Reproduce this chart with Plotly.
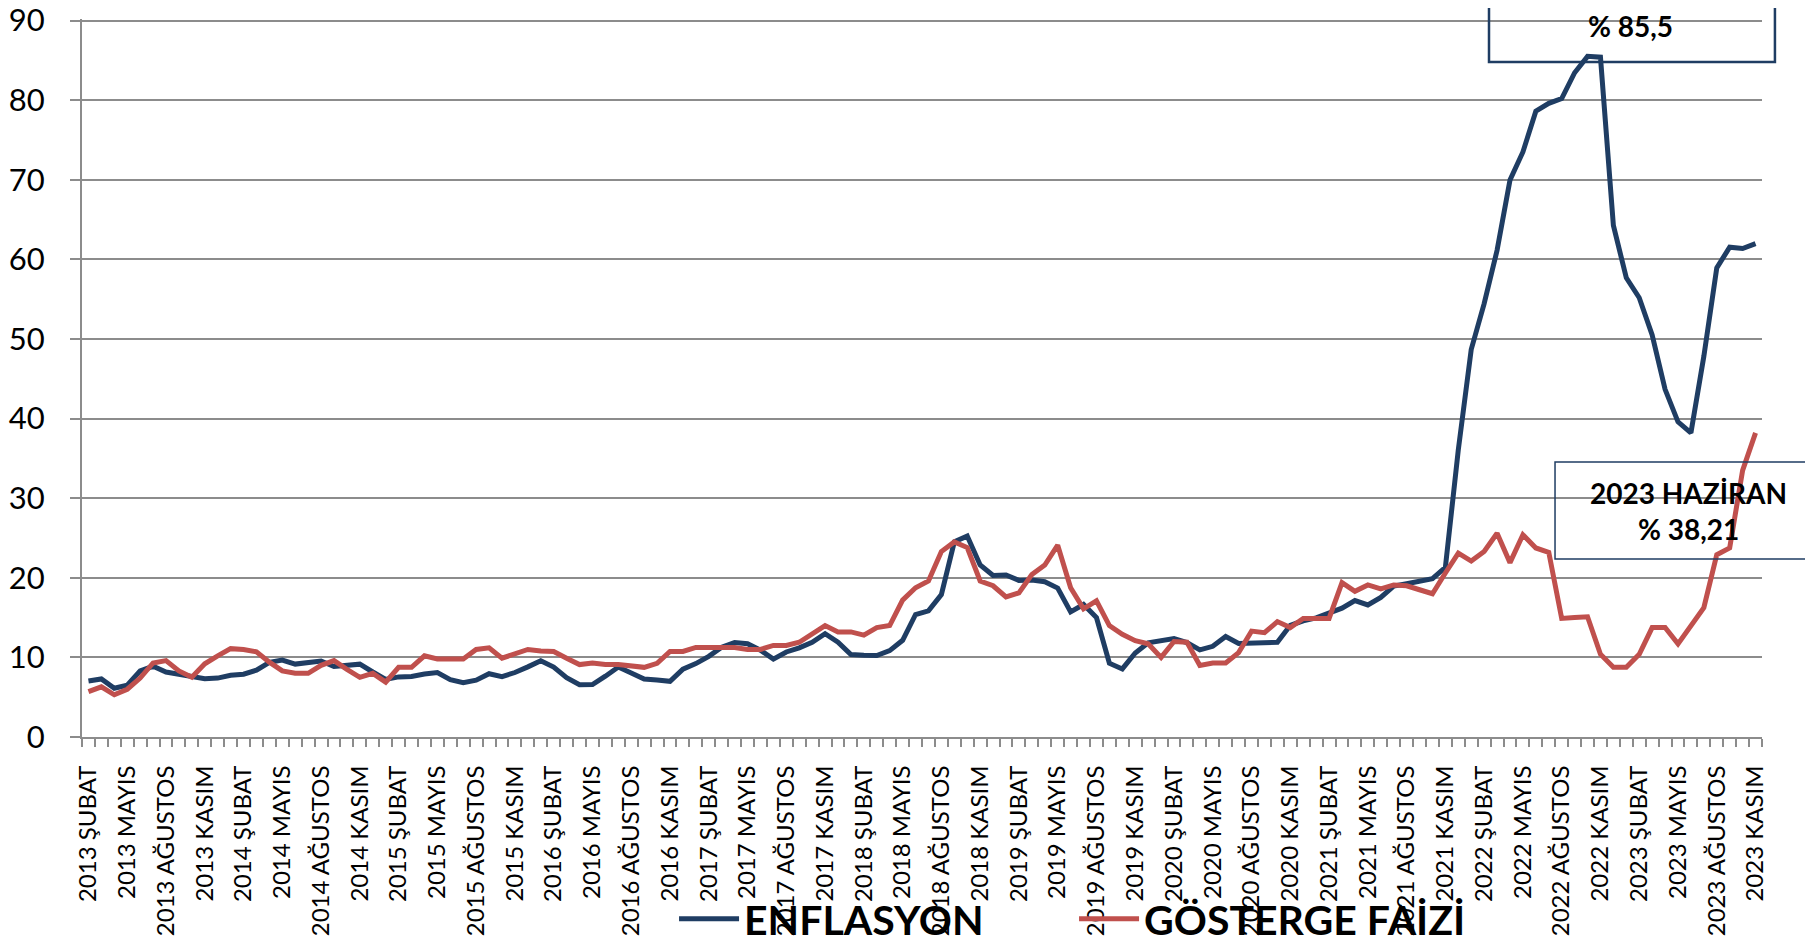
import plotly.graph_objects as go

# ---- data ----
month_names = ["OCAK", "ŞUBAT", "MART", "NİSAN", "MAYIS", "HAZİRAN",
               "TEMMUZ", "AĞUSTOS", "EYLÜL", "EKİM", "KASIM", "ARALIK"]
months = [f"{y} {month_names[m]}" for y in range(2013, 2024) for m in range(12)]
months = months[1:months.index("2023 KASIM") + 1]   # 2013 ŞUBAT .. 2023 KASIM

enflasyon = [
    7.03, 7.29, 6.13, 6.51, 8.30, 8.88, 8.17, 7.88, 7.71, 7.32, 7.40,
    7.75, 7.89, 8.39, 9.38, 9.66, 9.16, 9.32, 9.54, 8.86, 8.96, 9.15, 8.17,
    7.24, 7.55, 7.61, 7.91, 8.09, 7.20, 6.81, 7.14, 7.95, 7.58, 8.10, 8.81,
    9.58, 8.78, 7.46, 6.57, 6.58, 7.64, 8.79, 8.05, 7.28, 7.16, 7.00, 8.53,
    9.22, 10.13, 11.29, 11.87, 11.72, 10.90, 9.79, 10.68, 11.20, 11.90, 12.98, 11.92,
    10.35, 10.26, 10.23, 10.85, 12.15, 15.39, 15.85, 17.90, 24.52, 25.24, 21.62, 20.30,
    20.35, 19.67, 19.71, 19.50, 18.71, 15.72, 16.65, 15.01, 9.26, 8.55, 10.56, 11.84,
    12.15, 12.37, 11.86, 10.94, 11.39, 12.62, 11.76, 11.77, 11.75, 11.89, 14.03, 14.60,
    14.97, 15.61, 16.19, 17.14, 16.59, 17.53, 18.95, 19.25, 19.58, 19.89, 21.31, 36.08,
    48.69, 54.44, 61.14, 69.97, 73.50, 78.62, 79.60, 80.21, 83.45, 85.51, 85.40, 64.27,
    57.68, 55.18, 50.51, 43.68, 39.59, 38.21, 47.83, 58.94, 61.53, 61.36, 61.98,
]

gosterge_faizi = [
    5.7, 6.3, 5.3, 6.0, 7.4, 9.3, 9.6, 8.3, 7.5, 9.2, 10.2,
    11.1, 11.0, 10.7, 9.4, 8.3, 8.0, 8.0, 9.0, 9.6, 8.5, 7.5, 8.0,
    6.9, 8.75, 8.75, 10.2, 9.8, 9.8, 9.8, 11.0, 11.2, 9.9, 10.4, 11.0,
    10.8, 10.75, 9.9, 9.1, 9.3, 9.1, 9.1, 8.9, 8.75, 9.25, 10.75, 10.75,
    11.25, 11.25, 11.25, 11.25, 11.0, 11.0, 11.5, 11.5, 11.9, 12.9, 14.0, 13.2,
    13.2, 12.8, 13.75, 14.0, 17.2, 18.75, 19.6, 23.3, 24.5, 23.8, 19.6, 19.0,
    17.6, 18.1, 20.4, 21.6, 24.1, 18.75, 16.1, 17.1, 14.0, 12.9, 12.1, 11.7,
    10.0, 12.0, 11.9, 9.0, 9.3, 9.3, 10.6, 13.3, 13.1, 14.5, 13.75, 14.9,
    14.9, 14.9, 19.4, 18.3, 19.1, 18.6, 19.1, 19.0, 18.5, 18.0, 20.6, 23.1,
    22.1, 23.3, 25.6, 21.9, 25.4, 23.75, 23.2, 14.9, 15.0, 15.1, 10.4, 8.75,
    8.75, 10.4, 13.75, 13.75, 11.7, 14.0, 16.25, 22.9, 23.75, 33.5, 38.2,
]

tick_labels = months[::3]
y_ticks = [0, 10, 20, 30, 40, 50, 60, 70, 80, 90]

# ---- figure ----
pos = list(range(len(months)))
BLUE = "#1F3D63"
RED = "#C0504D"
GRID = "#8C8C8C"
FONT = "Lato"

fig = go.Figure()
fig.add_trace(go.Scatter(x=pos, y=enflasyon, mode="lines", name="ENFLASYON",
                         text=months, hovertemplate="%{text}: %{y}<extra></extra>",
                         line=dict(color=BLUE, width=5)))
fig.add_trace(go.Scatter(x=pos, y=gosterge_faizi, mode="lines", name="GÖSTERGE FAİZİ",
                         text=months, hovertemplate="%{text}: %{y}<extra></extra>",
                         line=dict(color=RED, width=5)))

# page body has an 8px default margin -> figure is 8px smaller than the window
fig.update_layout(
    width=1805, height=936,
    margin=dict(l=74, r=51, t=11, b=207, autoexpand=False),
    plot_bgcolor="white", paper_bgcolor="white",
    font=dict(family=FONT, color="black"),
    legend=dict(orientation="h", xref="container", yref="container",
                x=0.369, y=0.0267, xanchor="left", yanchor="middle",
                bgcolor="rgba(0,0,0,0)",
                font=dict(family=FONT, size=41, weight="bold", color="black"),
                itemwidth=60, entrywidth=325, tracegroupgap=0),
)

fig.update_xaxes(
    range=[-0.5, len(months) - 0.5], automargin=False,
    tickmode="array", tickvals=pos[::3], ticktext=tick_labels,
    tickangle=-90, ticks="", ticklabelstandoff=17,
    tickfont=dict(family=FONT, size=24, color="black"),
    showgrid=False, zeroline=False,
    showline=True, linecolor=GRID, linewidth=2,
    minor=dict(ticks="outside", tick0=-0.5, dtick=1, ticklen=8,
               tickcolor=GRID, tickwidth=2, showgrid=False),
)
fig.update_yaxes(
    range=[0, 90.2], automargin=False, tickmode="array", tickvals=y_ticks,
    ticks="outside", ticklen=10, tickcolor=GRID, tickwidth=2,
    ticklabelstandoff=19, ticklabeloverflow="allow",
    tickfont=dict(family=FONT, size=31, color="black"),
    showgrid=True, gridcolor=GRID, gridwidth=2, zeroline=False,
    showline=True, linecolor=GRID, linewidth=2,
)

# annotation boxes (paper coordinates)
fig.add_shape(type="rect", xref="paper", yref="paper",
              x0=0.8375, x1=1.0077, y0=0.9401, y1=1.2,
              line=dict(color=BLUE, width=2.5), fillcolor="rgba(0,0,0,0)", layer="above")
fig.add_annotation(xref="paper", yref="paper", x=0.922, y=0.9903,
                   xanchor="center", yanchor="middle",
                   text="% 85,5", showarrow=False,
                   font=dict(family=FONT, size=28, weight="bold", color="black"))

fig.add_shape(type="rect", xref="paper", yref="paper",
              x0=0.8768, x1=1.04, y0=0.2479, y1=0.3830,
              line=dict(color=BLUE, width=1.5), fillcolor="rgba(0,0,0,0)", layer="above")
fig.add_annotation(xref="paper", yref="paper", x=0.9565, y=0.3148,
                   xanchor="center", yanchor="middle",
                   text="2023 HAZİRAN<br>% 38,21", showarrow=False,
                   font=dict(family=FONT, size=28, weight="bold", color="black"))

fig.write_html("out.html")
